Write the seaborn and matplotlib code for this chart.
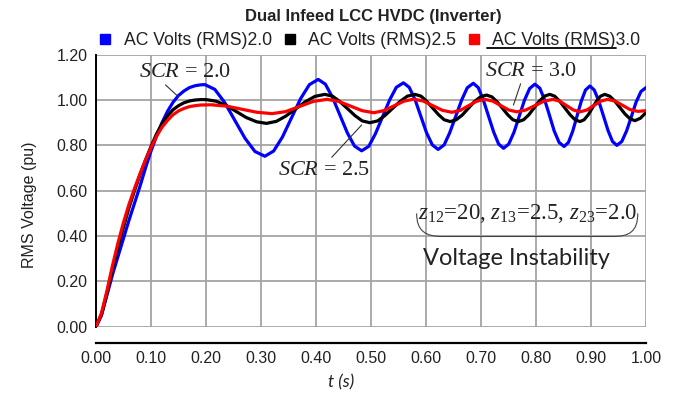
import numpy as np
import pandas as pd
import matplotlib
matplotlib.use("Agg")
import matplotlib.pyplot as plt
from matplotlib.lines import Line2D
from matplotlib.path import Path
from matplotlib.patches import PathPatch
import seaborn as sns

# ---------------- data ----------------
t_blue = [0.00, 0.01, 0.02, 0.03, 0.04, 0.05, 0.06, 0.07, 0.08, 0.09, 0.10, 0.11, 0.12, 0.13, 0.14,
          0.15, 0.16, 0.17, 0.18, 0.19, 0.198,
          0.216, 0.234, 0.2525, 0.271, 0.289, 0.307,
          0.323, 0.339, 0.3555, 0.372, 0.388, 0.404,
          0.417, 0.430, 0.4435, 0.457, 0.470, 0.483,
          0.496, 0.508, 0.521, 0.534, 0.546, 0.559,
          0.5695, 0.580, 0.5905, 0.601, 0.6115, 0.622,
          0.633, 0.643, 0.654, 0.665, 0.675, 0.686,
          0.695, 0.704, 0.7135, 0.723, 0.732, 0.741,
          0.7505, 0.760, 0.7695, 0.779, 0.7885, 0.798,
          0.807, 0.8157, 0.8245, 0.833, 0.842, 0.851,
          0.859, 0.8667, 0.8745, 0.8823, 0.890, 0.898,
          0.906, 0.914, 0.9225, 0.931, 0.939, 0.947,
          0.956, 0.9647, 0.9735, 0.982, 0.991, 1.000]
v_blue = [0.00, 0.05, 0.14, 0.23, 0.31, 0.39, 0.47, 0.545, 0.62, 0.70, 0.775, 0.84, 0.90, 0.95, 0.99,
          1.02, 1.04, 1.055, 1.063, 1.067, 1.068,
          1.047, 0.989, 0.910, 0.831, 0.773, 0.752,
          0.775, 0.837, 0.9215, 1.006, 1.068, 1.091,
          1.070, 1.012, 0.9335, 0.855, 0.797, 0.776,
          0.796, 0.851, 0.926, 1.001, 1.056, 1.076,
          1.056, 1.0025, 0.929, 0.8555, 0.802, 0.782,
          0.802, 0.855, 0.928, 1.001, 1.054, 1.074,
          1.055, 1.002, 0.9305, 0.859, 0.806, 0.787,
          0.806, 0.858, 0.9285, 0.999, 1.051, 1.070,
          1.052, 1.001, 0.9325, 0.864, 0.813, 0.795,
          0.813, 0.862, 0.9285, 0.995, 1.044, 1.062,
          1.044, 0.9965, 0.931, 0.8655, 0.8175, 0.800,
          0.817, 0.864, 0.9275, 0.991, 1.038, 1.055]

t_black = [0.00, 0.01, 0.02, 0.03, 0.04, 0.05, 0.06, 0.07, 0.08, 0.09, 0.10, 0.11, 0.12, 0.13, 0.14,
           0.15, 0.16, 0.17, 0.18, 0.19, 0.20,
           0.218, 0.237, 0.255, 0.273, 0.292, 0.310,
           0.328, 0.345, 0.363, 0.381, 0.398, 0.416,
           0.430, 0.443, 0.457, 0.471, 0.484, 0.498,
           0.512, 0.525, 0.539, 0.553, 0.566, 0.580,
           0.591, 0.601, 0.612, 0.623, 0.633, 0.644,
           0.655, 0.666, 0.677, 0.688, 0.699, 0.710,
           0.7197, 0.729, 0.739, 0.749, 0.758, 0.768,
           0.7775, 0.787, 0.7965, 0.806, 0.8155, 0.825,
           0.834, 0.843, 0.8525, 0.862, 0.871, 0.880,
           0.8875, 0.895, 0.9025, 0.910, 0.9175, 0.925,
           0.934, 0.943, 0.9525, 0.962, 0.971, 0.980,
           0.990, 1.000]
v_black = [0.00, 0.055, 0.15, 0.255, 0.35, 0.44, 0.525, 0.60, 0.67, 0.735, 0.795, 0.85, 0.895, 0.93, 0.957,
           0.975, 0.988, 0.996, 1.000, 1.002, 1.002,
           0.995, 0.976, 0.9495, 0.923, 0.904, 0.897,
           0.906, 0.929, 0.961, 0.993, 1.016, 1.025,
           1.017, 0.994, 0.9625, 0.931, 0.908, 0.900,
           0.908, 0.931, 0.9625, 0.994, 1.017, 1.025,
           1.017, 0.995, 0.965, 0.935, 0.913, 0.905,
           0.913, 0.934, 0.9635, 0.993, 1.014, 1.022,
           1.014, 0.993, 0.9635, 0.934, 0.913, 0.905,
           0.913, 0.935, 0.965, 0.995, 1.017, 1.025,
           1.017, 0.995, 0.965, 0.935, 0.913, 0.905,
           0.913, 0.935, 0.965, 0.995, 1.017, 1.025,
           1.017, 0.996, 0.967, 0.938, 0.917, 0.909,
           0.920, 0.945]

t_red = [0.00, 0.01, 0.02, 0.03, 0.04, 0.05, 0.06, 0.07, 0.08, 0.09, 0.10, 0.11, 0.12, 0.13, 0.14,
         0.15, 0.16, 0.17, 0.18, 0.19, 0.21,
         0.2375, 0.265, 0.2925, 0.320,
         0.345, 0.370, 0.395, 0.420,
         0.441, 0.4625, 0.484, 0.505,
         0.523, 0.5415, 0.560, 0.578,
         0.595, 0.6125, 0.630, 0.647,
         0.662, 0.677, 0.692, 0.707,
         0.7215, 0.736, 0.7505, 0.765,
         0.7815, 0.798, 0.8145, 0.831,
         0.843, 0.8555, 0.868, 0.880,
         0.8925, 0.905, 0.9175, 0.930,
         0.944, 0.9575, 0.971, 0.985,
         1.000]
v_red = [0.00, 0.06, 0.16, 0.27, 0.37, 0.46, 0.54, 0.61, 0.675, 0.735, 0.79, 0.84, 0.88, 0.91, 0.935,
         0.952, 0.963, 0.971, 0.975, 0.978, 0.979,
         0.973, 0.9595, 0.946, 0.940,
         0.949, 0.9715, 0.994, 1.003,
         0.994, 0.9735, 0.953, 0.944,
         0.953, 0.974, 0.995, 1.004,
         0.9955, 0.975, 0.9545, 0.946,
         0.954, 0.9745, 0.9947, 1.003,
         0.995, 0.9755, 0.956, 0.948,
         0.956, 0.9755, 0.995, 1.003,
         0.995, 0.9755, 0.956, 0.948,
         0.956, 0.9755, 0.995, 1.003,
         0.995, 0.9765, 0.958, 0.950,
         0.953]

series_names = ["AC Volts (RMS)2.0", "AC Volts (RMS)2.5", "AC Volts (RMS)3.0"]
series_colors = ["#0000ff", "#000000", "#ff0000"]
x_ticks = [0.0, 0.1, 0.2, 0.3, 0.4, 0.5, 0.6, 0.7, 0.8, 0.9, 1.0]
y_ticks = [0.0, 0.2, 0.4, 0.6, 0.8, 1.0, 1.2]

df = pd.concat([
    pd.DataFrame({"t": t_blue, "v": v_blue, "series": series_names[0]}),
    pd.DataFrame({"t": t_black, "v": v_black, "series": series_names[1]}),
    pd.DataFrame({"t": t_red, "v": v_red, "series": series_names[2]}),
], ignore_index=True)

# ---------------- style ----------------
sns.set_style("white")
plt.rcParams["font.family"] = ["Liberation Sans", "DejaVu Sans"]
plt.rcParams["mathtext.fontset"] = "custom"
plt.rcParams["mathtext.it"] = "Liberation Serif:italic"
plt.rcParams["mathtext.rm"] = "Liberation Serif"

W, H = 675, 393
fig = plt.figure(figsize=(W / 100, H / 100), dpi=100)
ax = fig.add_axes([96 / W, 66.3 / H, 550 / W, 272 / H])

sns.lineplot(data=df, x="t", y="v", hue="series", palette=dict(zip(series_names, series_colors)),
             estimator=None, sort=False, linewidth=2.3, legend=False, ax=ax, zorder=3)

ax.set_xlim(0, 1.0)
ax.set_ylim(0, 1.2)
ax.set_xticks(x_ticks)
ax.set_yticks(y_ticks)
ax.set_xticklabels([f"{v:.2f}" for v in x_ticks])
ax.set_yticklabels([f"{v:.2f}" for v in y_ticks])
ax.grid(True, color="#a4a4a4", linewidth=1.3)
ax.set_axisbelow(True)

for s in ["top", "right"]:
    ax.spines[s].set_visible(False)
ax.spines["left"].set_color("black")
ax.spines["left"].set_linewidth(1.4)
ax.spines["bottom"].set_color("black")
ax.spines["bottom"].set_linewidth(1.6)
ax.spines["bottom"].set_position(("outward", 11.5))
ax.tick_params(axis="both", direction="out", length=4, width=1.3, color="black",
               labelsize=11.5, labelcolor="#222222")
ax.tick_params(axis="y", pad=2)
ax.tick_params(axis="x", pad=2)

ax.set_ylabel("RMS Voltage (pu)", fontsize=11.5, color="#222222")
ax.yaxis.set_label_coords(-0.107, 0.45)
ax.set_xlabel("t (s)", fontsize=12.5, fontstyle="italic", family="Lato", color="#222222")
ax.xaxis.set_label_coords(0.445, -0.175)

fig.text(0.553, 0.957, "Dual Infeed LCC HVDC (Inverter)", ha="center", va="center",
         fontsize=12, fontweight="bold", color="#222222")

handles = [Line2D([], [], marker="s", color=c, linestyle="None", markersize=6.5) for c in series_colors]
leg = fig.legend(handles, series_names, loc="center", bbox_to_anchor=(0.546, 0.896), ncol=3,
                 frameon=False, fontsize=12.7, handlelength=1.0, handletextpad=0.55, columnspacing=0.5,
                 borderpad=0, borderaxespad=0)
for txt in leg.get_texts():
    txt.set_color("#222222")
fig.add_artist(Line2D([487 / W, 616 / W], [1 - 48 / H, 1 - 48 / H], color="black", linewidth=1.3))

# ---------------- annotations ----------------
serif = "Liberation Serif"
ax.annotate(r"$SCR$ = 2.0", xy=(0.1496, 1.015), xytext=(0.078, 1.123), ha="left", va="center",
            fontsize=16, family=serif, color="#222222",
            arrowprops=dict(arrowstyle="-", lw=0.8, color="#333333", shrinkA=0, shrinkB=0, relpos=(0.25, 0.0)))
ax.annotate(r"$SCR$ = 2.5", xy=(0.483, 0.89), xytext=(0.331, 0.691), ha="left", va="center",
            fontsize=16, family=serif, color="#222222",
            arrowprops=dict(arrowstyle="-", lw=0.8, color="#333333", shrinkA=0, shrinkB=0, relpos=(0.55, 1.0)))
ax.annotate(r"$SCR$ = 3.0", xy=(0.759, 0.978), xytext=(0.707, 1.128), ha="left", va="center",
            fontsize=16, family=serif, color="#222222",
            arrowprops=dict(arrowstyle="-", lw=0.8, color="#333333", shrinkA=0, shrinkB=0, relpos=(0.4, 0.0)))

ax.text(0.7845, 0.50, r"$z_{12}$=20, $z_{13}$=2.5, $z_{23}$=2.0", ha="center", va="center",
        fontsize=16.5, family=serif, color="#222222", zorder=5)
verts = [(0.583, 0.50), (0.583, 0.42), (0.60, 0.398), (0.63, 0.398), (0.94, 0.398),
         (0.97, 0.398), (0.985, 0.42), (0.985, 0.50)]
codes = [Path.MOVETO, Path.CURVE4, Path.CURVE4, Path.CURVE4, Path.LINETO,
         Path.CURVE4, Path.CURVE4, Path.CURVE4]
ax.add_patch(PathPatch(Path(verts, codes), facecolor="none", edgecolor="#444444", lw=0.8, zorder=5))
ax.text(0.764, 0.299, "Voltage Instability", ha="center", va="center", fontsize=17,
        family="Lato", color="#222222", zorder=5)

fig.savefig("out.png", dpi=100)
